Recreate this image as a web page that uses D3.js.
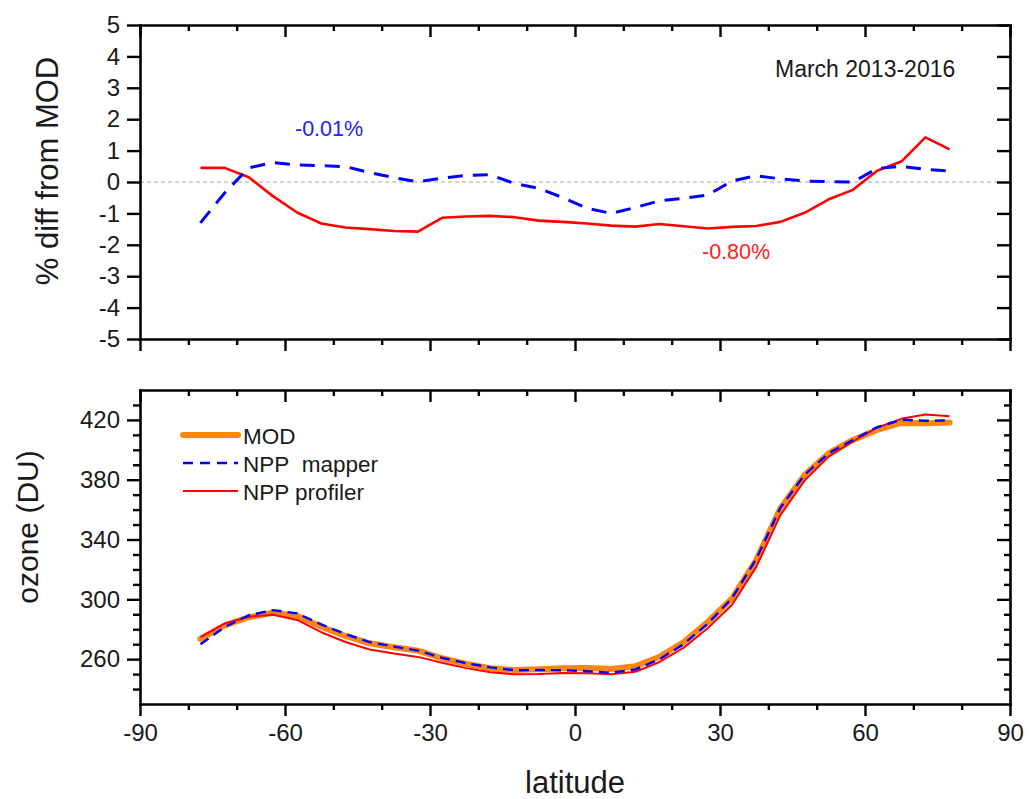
<!DOCTYPE html>
<html>
<head>
<meta charset="utf-8">
<script src="https://cdn.jsdelivr.net/npm/d3@7"></script>
<style>
  html, body { margin: 0; padding: 0; background: #fff; }
  svg { display: block; font-family: "Liberation Sans", Arial, sans-serif; }
  .axis path.domain { stroke: #000; stroke-width: 2.6; stroke-linecap: square; }
  .axis line { stroke: #000; stroke-width: 2.4; }
  .axis text { fill: #1a1a1a; font-size: 24px; font-family: "Liberation Sans", Arial, sans-serif; }
</style>
</head>
<body>
<svg id="chart" width="1029" height="799"></svg>
<script>
// ---------------- data ----------------
const latitude = [-77.5, -72.5, -67.5, -62.5, -57.5, -52.5, -47.5, -42.5, -37.5, -32.5,
                  -27.5, -22.5, -17.5, -12.5, -7.5, -2.5, 2.5, 7.5, 12.5, 17.5,
                  22.5, 27.5, 32.5, 37.5, 42.5, 47.5, 52.5, 57.5, 62.5, 67.5, 72.5, 77.5];

// % diff from MOD
const diffMapper = [-1.30, -0.35, 0.45, 0.62, 0.54, 0.52, 0.49, 0.30, 0.14, 0.01,
                    0.12, 0.21, 0.23, -0.05, -0.20, -0.50, -0.84, -1.00, -0.81, -0.60,
                    -0.52, -0.41, 0.03, 0.20, 0.10, 0.03, 0.01, 0.00, 0.43, 0.50, 0.40, 0.35];
const diffProfiler = [0.45, 0.45, 0.15, -0.45, -0.97, -1.32, -1.45, -1.50, -1.56, -1.58,
                      -1.14, -1.10, -1.08, -1.12, -1.23, -1.27, -1.32, -1.39, -1.42, -1.34,
                      -1.41, -1.48, -1.43, -1.40, -1.27, -0.98, -0.55, -0.25, 0.36, 0.65, 1.42, 1.04];

// ozone (DU)
const ozoneMOD = [273.5, 282.5, 288.0, 291.0, 289.0, 281.7, 275.5, 270.6, 268.0, 265.7,
                  260.6, 256.8, 253.9, 252.7, 253.2, 253.9, 254.0, 253.4, 255.2, 261.6,
                  271.5, 285.0, 300.7, 326.3, 360.9, 383.2, 397.7, 406.6, 413.3, 418.0, 417.7, 418.2];
const ozoneMapper = [269.9, 281.5, 289.3, 292.8, 290.6, 283.2, 276.8, 271.4, 268.4, 265.7,
                     260.9, 257.3, 254.5, 252.6, 252.7, 252.6, 251.9, 250.9, 253.1, 260.0,
                     270.1, 283.8, 300.8, 327.0, 361.3, 383.3, 397.7, 406.6, 415.1, 420.1, 419.4, 419.7];
const ozoneProfiler = [274.7, 283.8, 288.4, 289.7, 286.2, 278.0, 271.5, 266.5, 263.8, 261.5,
                       257.6, 254.0, 251.2, 249.9, 250.1, 250.7, 250.6, 249.9, 251.6, 258.1,
                       267.7, 280.8, 296.4, 321.7, 356.3, 379.4, 395.5, 405.6, 414.8, 420.7, 423.6, 422.5];

const latTicks = [-90, -60, -30, 0, 30, 60, 90];
const latMinorTicks = [-80, -70, -50, -40, -20, -10, 10, 20, 40, 50, 70, 80];
const diffTicks = [-5, -4, -3, -2, -1, 0, 1, 2, 3, 4, 5];
const ozoneTicks = [260, 300, 340, 380, 420];
const ozoneMinorTicks = [240, 250, 270, 280, 290, 310, 320, 330, 350, 360, 370, 390, 400, 410, 430];

const legendLabels = ["MOD", "NPP\u00a0 mapper", "NPP profiler"];
const periodLabel = "March 2013-2016";
const meanMapperLabel = "-0.01%";
const meanProfilerLabel = "-0.80%";

// ---------------- layout ----------------
const svg = d3.select("#chart");
const X0 = 140, X1 = 1010;
const panelTop = { y0: 25, y1: 339 };
const panelBot = { y0: 390, y1: 704 };

const x = d3.scaleLinear().domain([-90, 90]).range([X0, X1]);
const yDiff = d3.scaleLinear().domain([-5, 5]).range([panelTop.y1, panelTop.y0]);
const yOz = d3.scaleLinear().domain([230, 440]).range([panelBot.y1, panelBot.y0]);

const fmt = d => String(d);

function frame(y, yMajor, yMinor, yTop, yBot, xLabels) {
  const g = svg.append("g");
  // bottom
  g.append("g").attr("class", "axis").attr("transform", `translate(0,${yBot})`)
    .call(d3.axisBottom(x).tickValues(latTicks).tickSize(12).tickSizeOuter(0).tickPadding(8)
      .tickFormat(xLabels ? fmt : () => ""));
  g.append("g").attr("class", "axis").attr("transform", `translate(0,${yBot})`)
    .call(d3.axisBottom(x).tickValues(latMinorTicks).tickSize(6).tickSizeOuter(0).tickFormat(() => ""))
    .select(".domain").remove();
  // top (inward)
  g.append("g").attr("class", "axis").attr("transform", `translate(0,${yTop})`)
    .call(d3.axisTop(x).tickValues(latTicks).tickSize(-12).tickSizeOuter(0).tickFormat(() => ""));
  g.append("g").attr("class", "axis").attr("transform", `translate(0,${yTop})`)
    .call(d3.axisTop(x).tickValues(latMinorTicks).tickSize(-6).tickSizeOuter(0).tickFormat(() => ""))
    .select(".domain").remove();
  // left
  g.append("g").attr("class", "axis").attr("transform", `translate(${X0},0)`)
    .call(d3.axisLeft(y).tickValues(yMajor).tickSize(13).tickSizeOuter(0).tickPadding(7).tickFormat(fmt));
  // right (inward)
  g.append("g").attr("class", "axis").attr("transform", `translate(${X1},0)`)
    .call(d3.axisRight(y).tickValues(yMajor).tickSize(-13).tickSizeOuter(0).tickFormat(() => ""));
  if (yMinor) {
    g.append("g").attr("class", "axis").attr("transform", `translate(${X0},0)`)
      .call(d3.axisLeft(y).tickValues(yMinor).tickSize(7).tickSizeOuter(0).tickFormat(() => ""))
      .select(".domain").remove();
    g.append("g").attr("class", "axis").attr("transform", `translate(${X1},0)`)
      .call(d3.axisRight(y).tickValues(yMinor).tickSize(-6).tickSizeOuter(0).tickFormat(() => ""))
      .select(".domain").remove();
  }
  return g;
}

// ---------------- top panel ----------------
const gTop = svg.append("g");
gTop.append("line")
  .attr("x1", x(-90)).attr("x2", x(90))
  .attr("y1", yDiff(0)).attr("y2", yDiff(0))
  .attr("stroke", "#a8a8a8").attr("stroke-width", 1.2).attr("stroke-dasharray", "4,3");

const lineDiff = vals => d3.line().x((d, i) => x(latitude[i])).y(d => yDiff(d))(vals);

gTop.append("path").attr("d", lineDiff(diffProfiler))
  .attr("fill", "none").attr("stroke", "#ff0000").attr("stroke-width", 2.6).attr("stroke-linejoin", "round");
gTop.append("path").attr("d", lineDiff(diffMapper))
  .attr("fill", "none").attr("stroke", "#0000ff").attr("stroke-width", 3).attr("stroke-dasharray", "15,10");

frame(yDiff, diffTicks, null, panelTop.y0, panelTop.y1, false);

svg.append("text").attr("x", 775).attr("y", 77)
  .attr("font-size", 23).attr("fill", "#1a1a1a").text(periodLabel);
svg.append("text").attr("x", 295).attr("y", 136)
  .attr("font-size", 21.5).attr("fill", "#2020ff").text(meanMapperLabel);
svg.append("text").attr("x", 702).attr("y", 259)
  .attr("font-size", 21.5).attr("fill", "#ff2020").text(meanProfilerLabel);

svg.append("text")
  .attr("transform", `translate(58,171) rotate(-90)`)
  .attr("text-anchor", "middle").attr("font-size", 31).attr("fill", "#1a1a1a")
  .text("% diff from MOD");

// ---------------- bottom panel ----------------
const gBot = svg.append("g");
const lineOz = vals => d3.line().x((d, i) => x(latitude[i])).y(d => yOz(d))(vals);

gBot.append("path").attr("d", lineOz(ozoneMOD))
  .attr("fill", "none").attr("stroke", "#ff8410").attr("stroke-width", 6).attr("stroke-linejoin", "round").attr("stroke-linecap", "round");
gBot.append("path").attr("d", lineOz(ozoneProfiler))
  .attr("fill", "none").attr("stroke", "#ff0000").attr("stroke-width", 2).attr("stroke-linejoin", "round");
gBot.append("path").attr("d", lineOz(ozoneMapper))
  .attr("fill", "none").attr("stroke", "#0000ff").attr("stroke-width", 2.4).attr("stroke-dasharray", "10,6");

frame(yOz, ozoneTicks, ozoneMinorTicks, panelBot.y0, panelBot.y1, true);

// legend
const legendStyles = [
  { color: "#ff8410", width: 6, dash: null, cap: "round" },
  { color: "#0000ff", width: 2.6, dash: "10,7", cap: "butt" },
  { color: "#ff0000", width: 2, dash: null, cap: "butt" }
];
const leg = svg.append("g");
legendLabels.forEach((lab, i) => {
  const yy = 435 + i * 28;
  leg.append("line").attr("x1", 183).attr("x2", 238).attr("y1", yy).attr("y2", yy)
    .attr("stroke", legendStyles[i].color).attr("stroke-width", legendStyles[i].width)
    .attr("stroke-dasharray", legendStyles[i].dash).attr("stroke-linecap", legendStyles[i].cap);
  leg.append("text").attr("x", 243).attr("y", yy + 8.5)
    .attr("font-size", 22.5).attr("fill", "#1a1a1a").text(lab);
});

svg.append("text")
  .attr("transform", `translate(38,527) rotate(-90)`)
  .attr("text-anchor", "middle").attr("font-size", 30).attr("fill", "#1a1a1a")
  .text("ozone (DU)");

svg.append("text").attr("x", 575).attr("y", 793)
  .attr("text-anchor", "middle").attr("font-size", 31).attr("fill", "#1a1a1a")
  .text("latitude");
</script>
</body>
</html>
